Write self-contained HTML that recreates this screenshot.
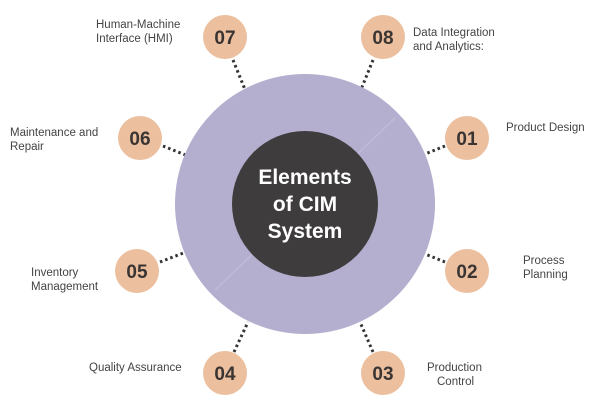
<!DOCTYPE html>
<html><head><meta charset="utf-8"><style>
html,body{margin:0;padding:0;background:#fff;}
svg{display:block}
text{font-family:"Liberation Sans",sans-serif;}
</style></head><body>
<svg width="600" height="405" viewBox="0 0 600 405" xmlns="http://www.w3.org/2000/svg">
<rect width="600" height="405" fill="#fff"/>
<g stroke="#333" stroke-width="3" stroke-dasharray="2.5 3" fill="none">
<line x1="233" y1="60" x2="246" y2="92"/>
<line x1="373" y1="60" x2="360" y2="92"/>
<line x1="163" y1="146" x2="188" y2="156"/>
<line x1="445" y1="146" x2="420" y2="156"/>
<line x1="160" y1="262" x2="186" y2="252"/>
<line x1="445" y1="262" x2="420" y2="252"/>
<line x1="234" y1="352" x2="248" y2="322"/>
<line x1="373" y1="352" x2="360" y2="322"/>
</g>
<circle cx="305" cy="204" r="130" fill="#b4aecf"/>
<line x1="215" y1="290" x2="395" y2="118" stroke="#c0bbd8" stroke-width="1.5"/>
<circle cx="305" cy="204" r="73" fill="#3e3c3d"/>
<g fill="#fff" font-weight="bold" font-size="21" text-anchor="middle">
<text x="305" y="184">Elements</text>
<text x="305" y="211">of CIM</text>
<text x="305" y="238">System</text>
</g>
<g fill="#ecbf9e">
<circle cx="225" cy="37" r="22"/>
<circle cx="383" cy="37" r="22"/>
<circle cx="140" cy="138" r="22"/>
<circle cx="467" cy="138" r="22"/>
<circle cx="137" cy="271" r="22"/>
<circle cx="467" cy="271" r="22"/>
<circle cx="225" cy="373" r="22"/>
<circle cx="383" cy="373" r="22"/>
</g>
<g fill="#3a3533" font-weight="bold" font-size="19" text-anchor="middle">
<text x="225" y="44">07</text>
<text x="383" y="44">08</text>
<text x="140" y="145">06</text>
<text x="467" y="145">01</text>
<text x="137" y="278">05</text>
<text x="467" y="278">02</text>
<text x="225" y="380">04</text>
<text x="383" y="380">03</text>
</g>
<g fill="#444" font-size="11.5">
<text x="96" y="28">Human-Machine</text>
<text x="96" y="42">Interface (HMI)</text>
<text x="413" y="36">Data Integration</text>
<text x="413" y="50">and Analytics:</text>
<text x="10" y="136">Maintenance and</text>
<text x="10" y="150">Repair</text>
<text x="506" y="131">Product Design</text>
<text x="31" y="276">Inventory</text>
<text x="31" y="290">Management</text>
<text x="523" y="264">Process</text>
<text x="523" y="278">Planning</text>
<text x="89" y="371">Quality Assurance</text>
<text x="427" y="371">Production</text>
<text x="437" y="385">Control</text>
</g>
</svg>
</body></html>
